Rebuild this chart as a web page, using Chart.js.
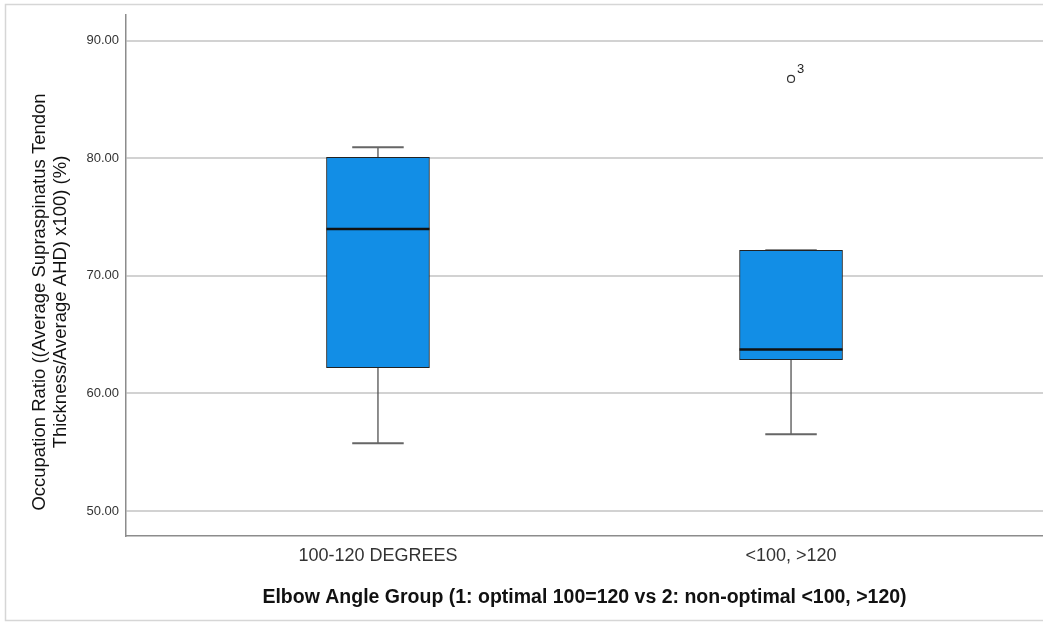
<!DOCTYPE html>
<html>
<head>
<meta charset="utf-8">
<script src="https://cdn.jsdelivr.net/npm/chart.js@4/dist/chart.umd.min.js"></script>
<style>
  body { margin: 0; background: #fff; }
</style>
</head>
<body>
<canvas id="boxChart" width="1043" height="623"></canvas>
<script>
// ---- data ----
const groups = ["100-120 DEGREES", "<100, >120"];
const whiskerLow = [55.76, 56.53];
const q1 = [62.2, 62.88];
const median = [73.98, 63.73];
const q3 = [80.08, 72.18];
const whiskerHigh = [80.93, 72.18];
const outlierGroup = [2];
const outlierValue = [86.75];
const outlierCase = ["3"];
const yTicks = [50, 60, 70, 80, 90];

const yTitle = ["Occupation Ratio ((Average Supraspinatus Tendon", "Thickness/Average AHD) x100) (%)"];
const xTitle = "Elbow Angle Group (1: optimal 100=120 vs 2: non-optimal <100, >120)";

const fontFamily = "Arial, 'Liberation Sans', sans-serif";

// ----start frame + whiskers + medians plugin---------
const boxPlotPlugin = {
  id: "boxPlot",
  beforeDraw(chart) {
    const ctx = chart.ctx;
    ctx.save();
    ctx.strokeStyle = "#d6d6d6";
    ctx.lineWidth = 1.5;
    ctx.strokeRect(5.5, 4.5, 1045, 616);
    ctx.restore();
  },
  beforeDatasetsDraw(chart) {
    const ctx = chart.ctx;
    const x = chart.scales.x;
    const y = chart.scales.y;
    const bars = chart.getDatasetMeta(0).data;
    ctx.save();
    groups.forEach((g, i) => {
      const cx = x.getPixelForValue(i + 1);
      const half = bars[i].width / 4;
      ctx.strokeStyle = "#444";
      ctx.lineWidth = 1.2;
      ctx.beginPath();
      ctx.moveTo(cx, y.getPixelForValue(whiskerLow[i]));
      ctx.lineTo(cx, y.getPixelForValue(q1[i]));
      ctx.moveTo(cx, y.getPixelForValue(q3[i]));
      ctx.lineTo(cx, y.getPixelForValue(whiskerHigh[i]));
      ctx.stroke();
      ctx.strokeStyle = "#666";
      ctx.lineWidth = 2;
      ctx.beginPath();
      [whiskerLow[i], whiskerHigh[i]].forEach((v) => {
        const py = y.getPixelForValue(v);
        ctx.moveTo(cx - half, py);
        ctx.lineTo(cx + half, py);
      });
      ctx.stroke();
    });
    ctx.restore();
  },
  afterDatasetsDraw(chart) {
    const ctx = chart.ctx;
    const x = chart.scales.x;
    const y = chart.scales.y;
    const bars = chart.getDatasetMeta(0).data;
    ctx.save();
    ctx.strokeStyle = "#111";
    ctx.lineWidth = 2.5;
    groups.forEach((g, i) => {
      const cx = x.getPixelForValue(i + 1);
      const half = bars[i].width / 2;
      const py = y.getPixelForValue(median[i]);
      ctx.beginPath();
      ctx.moveTo(cx - half, py);
      ctx.lineTo(cx + half, py);
      ctx.stroke();
    });
    // outlier case numbers
    ctx.fillStyle = "#222";
    ctx.font = "13px " + fontFamily;
    ctx.textAlign = "left";
    ctx.textBaseline = "middle";
    outlierValue.forEach((v, i) => {
      ctx.fillText(outlierCase[i], x.getPixelForValue(outlierGroup[i]) + 6, y.getPixelForValue(v) - 9);
    });
    // y axis title
    ctx.font = "18.5px " + fontFamily;
    ctx.fillStyle = "#111";
    ctx.textAlign = "center";
    ctx.translate(40, 302);
    ctx.rotate(-Math.PI / 2);
    yTitle.forEach((line, k) => ctx.fillText(line, 0, k * 21));
    ctx.restore();
  },
};
// ----end plugin---------

const boxChart = new Chart(document.getElementById("boxChart"), {
  type: "bar",
  data: {
    datasets: [
      {
        label: "box",
        data: groups.map((g, i) => ({ x: i + 1, y: [q1[i], q3[i]] })),
        backgroundColor: "#128ee6",
        borderColor: "#222",
        borderWidth: 1,
        borderSkipped: false,
        barThickness: 103,
        order: 2,
      },
      {
        type: "scatter",
        label: "outliers",
        data: outlierValue.map((v, i) => ({ x: outlierGroup[i], y: v })),
        pointStyle: "circle",
        pointRadius: 3.5,
        backgroundColor: "#fff",
        borderColor: "#333",
        borderWidth: 1.2,
        order: 1,
      },
    ],
  },
  options: {
    responsive: false,
    animation: false,
    layout: { autoPadding: false, padding: { left: 0, right: 0, top: 13, bottom: 0 } },
    plugins: {
      legend: { display: false },
      tooltip: { enabled: false },
    },
    scales: {
      x: {
        type: "linear",
        offset: false,
        min: 0.39,
        max: 2.61,
        afterBuildTicks: (scale) => {
          scale.ticks = groups.map((g, i) => ({ value: i + 1 }));
        },
        afterFit: (scale) => {
          scale.height = 87;
          scale.paddingLeft = 0;
          scale.paddingRight = 0;
        },
        grid: { display: false, drawTicks: false },
        border: { color: "#8c8c8c", width: 1.5 },
        ticks: {
          padding: 9,
          color: "#333",
          font: { family: fontFamily, size: 18 },
          callback: (v) => groups[v - 1] || "",
        },
        title: {
          display: true,
          text: xTitle,
          color: "#111",
          font: { family: fontFamily, size: 19.5, weight: "bold" },
          padding: { top: 0, bottom: 14 },
        },
      },
      y: {
        min: 47.88,
        max: 92.2,
        afterBuildTicks: (scale) => {
          scale.ticks = yTicks.map((v) => ({ value: v }));
        },
        afterFit: (scale) => {
          scale.width = 126;
        },
        grid: { color: "#d2d2d2", lineWidth: 2, drawTicks: false },
        border: { color: "#8c8c8c", width: 1.5 },
        ticks: {
          padding: 7,
          color: "#333",
          font: { family: fontFamily, size: 13 },
          callback: (v) => v.toFixed(2),
        },
      },
    },
  },
  plugins: [boxPlotPlugin],
});
</script>
</body>
</html>
